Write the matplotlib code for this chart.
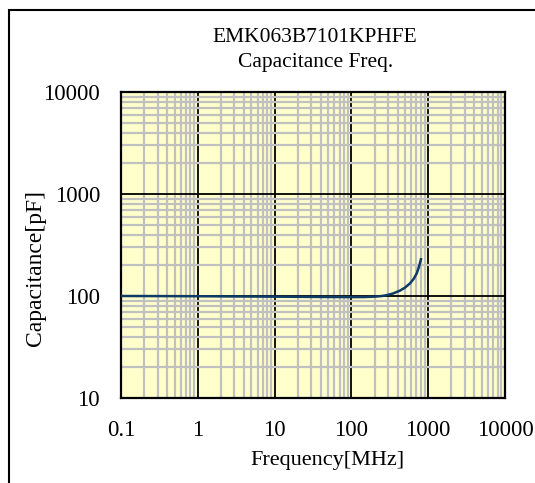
import numpy as np
import matplotlib
matplotlib.use('Agg')
import matplotlib.pyplot as plt
import matplotlib.patches as mpatches
from matplotlib.ticker import LogLocator, NullFormatter, FixedLocator

# data
freq_mhz = [0.1, 0.3, 1, 3, 10, 30, 100, 150, 200, 250, 290, 350, 430, 500, 580, 650, 710, 760, 805]
cap_pf = [100, 99.8, 99.5, 99, 98.5, 98, 97.5, 97.7, 98.5, 100, 102, 106, 113, 121, 133, 148, 167, 195, 229]

x_ticks = [0.1, 1, 10, 100, 1000, 10000]
x_labels = ['0.1', '1', '10', '100', '1000', '10000']
y_ticks = [10, 100, 1000, 10000]
y_labels = ['10', '100', '1000', '10000']

plt.rcParams['font.family'] = ['Liberation Serif', 'DejaVu Serif']

W, H = 535, 483
fig = plt.figure(figsize=(W / 100, H / 100), dpi=100)

# outer frame (extends past right and bottom edge)
fig.patches.append(mpatches.Rectangle((9 / W, -0.1), 1.2, 1 - 10 / H + 0.1,
                                      transform=fig.transFigure, fill=False,
                                      edgecolor='black', linewidth=1.5))

ax = fig.add_axes([121 / W, 1 - 398 / H, (505 - 121) / W, (398 - 92) / H])
ax.set_facecolor('#FFFFCC')
ax.set_xscale('log')
ax.set_yscale('log')
ax.set_xlim(0.1, 10000)
ax.set_ylim(10, 10000)

ax.xaxis.set_major_locator(FixedLocator(x_ticks))
ax.yaxis.set_major_locator(FixedLocator(y_ticks))
ax.set_xticklabels(x_labels)
ax.set_yticklabels(y_labels)
ax.xaxis.set_minor_locator(LogLocator(base=10, subs=np.arange(2, 10), numticks=20))
ax.yaxis.set_minor_locator(LogLocator(base=10, subs=np.arange(2, 10), numticks=20))
ax.xaxis.set_minor_formatter(NullFormatter())
ax.yaxis.set_minor_formatter(NullFormatter())

ax.grid(True, which='minor', color='#c0c0c0', linewidth=1.6)
ax.grid(True, which='major', color='black', linewidth=1.3)
ax.set_axisbelow(True)
ax.tick_params(which='both', length=0)
ax.tick_params(axis='x', pad=15.5, labelsize=16.5)
ax.tick_params(axis='y', pad=15, labelsize=16.5)
for s in ax.spines.values():
    s.set_linewidth(1.6)

ax.plot(freq_mhz, cap_pf, color='#0d3b66', linewidth=1.8, zorder=3)

fig.text(315 / W, 1 - 38 / H, 'EMK063B7101KPHFE', ha='center', va='center', fontsize=15.5)
fig.text(316 / W, 1 - 62 / H, 'Capacitance Freq.', ha='center', va='center', fontsize=15.5)
fig.text(327 / W, 1 - 461 / H, 'Frequency[MHz]', ha='center', va='center', fontsize=16)
fig.text(36 / W, 1 - 268 / H, 'Capacitance[pF]', ha='center', va='center',
         rotation=90, fontsize=17)

fig.savefig('out.png', dpi=100)
